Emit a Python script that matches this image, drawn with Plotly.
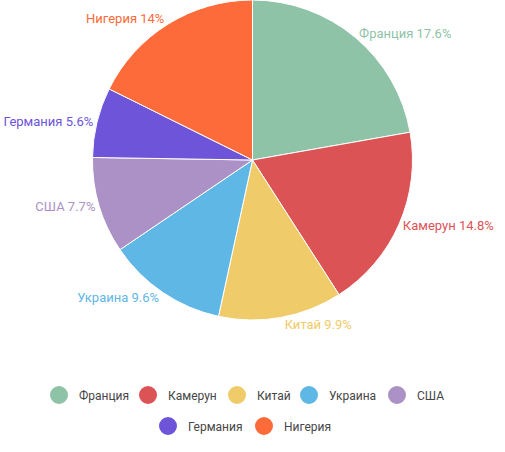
import plotly.graph_objects as go

countries = ["Франция", "Камерун", "Китай", "Украина", "США", "Германия", "Нигерия"]
values = [17.6, 14.8, 9.9, 9.6, 7.7, 5.6, 14]
colors = ["#8fc3a7", "#dc5356", "#f0cb69", "#5fb7e5", "#ab91c5", "#6d54d8", "#fd6b3a"]

# legend layout: (x of the symbol centre in px, row y in px) for each entry
LEGEND_SLOTS = [(59, 395), (148, 395), (237, 395), (309, 395), (397, 395), (168, 426), (264, 426)]
W, H = 505, 452

fig = go.Figure()
fig.add_trace(
    go.Pie(
        labels=countries,
        values=values,
        sort=False,
        direction="clockwise",
        rotation=0,
        marker=dict(colors=colors, line=dict(color="#ffffff", width=1)),
        textposition="outside",
        texttemplate="%{label} %{value}%",
        outsidetextfont=dict(family="Roboto", size=13, color=colors),
        showlegend=False,
        hoverinfo="label+value",
        domain=dict(x=[0, 1], y=[1 - 320 / H, 1]),
    )
)

legends = {}
for i, (name, color) in enumerate(zip(countries, colors)):
    key = "legend" if i == 0 else f"legend{i + 1}"
    fig.add_trace(
        go.Scatter(
            x=[None],
            y=[None],
            mode="markers",
            marker=dict(color=color, size=16, symbol="circle", line=dict(color=color, width=2)),
            name=name,
            legend=key,
        )
    )
    cx, cy = LEGEND_SLOTS[i]
    legends[key] = dict(
        orientation="h",
        x=(cx - 20) / W,
        xanchor="left",
        y=1 - cy / H,
        yanchor="middle",
        font=dict(family="Roboto", size=12, color="#464646"),
        itemsizing="trace",
        itemwidth=30,
        bgcolor="rgba(0,0,0,0)",
    )

fig.update_layout(
    width=W,
    height=H,
    margin=dict(l=0, r=0, t=0, b=0, autoexpand=False),
    paper_bgcolor="#ffffff",
    plot_bgcolor="#ffffff",
    font=dict(family="Roboto", size=12, color="#464646"),
    xaxis=dict(visible=False),
    yaxis=dict(visible=False),
    **legends,
)

# page body has a default 8px margin; drop it so the figure sits at the window corner
fig.write_html(
    "out.html",
    config={"displayModeBar": False},
    post_script="document.body.style.margin = '0';",
)
